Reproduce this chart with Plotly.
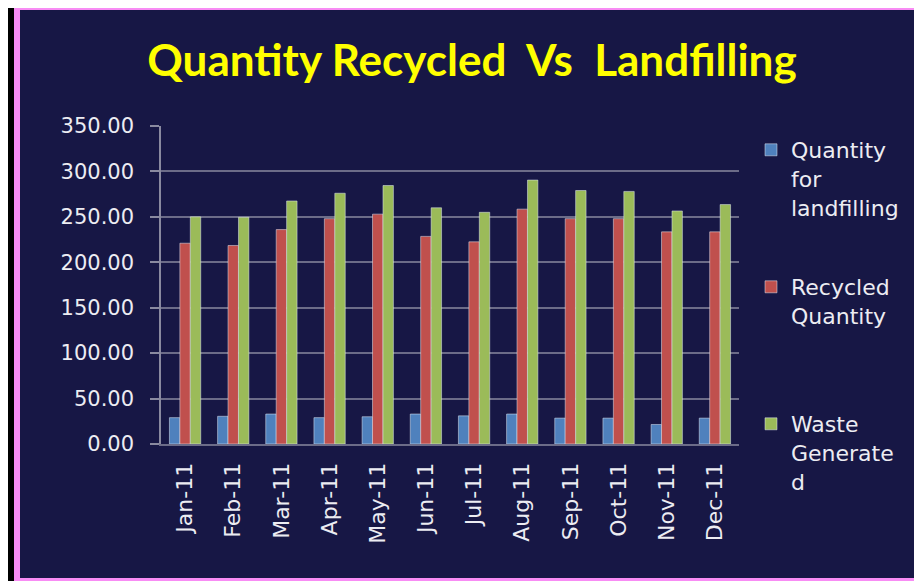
import plotly.graph_objects as go

months = ['Jan-11', 'Feb-11', 'Mar-11', 'Apr-11', 'May-11', 'Jun-11',
          'Jul-11', 'Aug-11', 'Sep-11', 'Oct-11', 'Nov-11', 'Dec-11']
landfill = [29, 30.5, 33, 29, 30, 33, 31, 33, 28.5, 28.5, 21.5, 28.5]
recycled = [221, 218.5, 236, 248, 253, 228.5, 222.5, 258.5, 248, 248, 233.5, 233.5]
waste = [250, 249.5, 267.5, 276, 284.5, 260, 255, 290.5, 279, 278, 256.5, 263.5]
yticks = [0, 50, 100, 150, 200, 250, 300, 350]

# page puts the plot 8px in from the window corner, so size it to fit
W, H = 914, 573
L, R, T, B = 153, 183, 118, 137
pw, ph = W - L - R, H - T - B


def px(x):
    return (x - L) / pw


def py(y):
    return (H - B - y) / ph


navy = '#171745'
grey = '#6c6c88'
txt = '#ececf2'
font = 'DejaVu Sans'

fig = go.Figure()
fig.add_trace(go.Bar(x=months, y=landfill, name='Quantity<br>for<br>landfilling',
                     marker_color='#4F81BD', legend='legend'))
fig.add_trace(go.Bar(x=months, y=recycled, name='Recycled<br>Quantity',
                     marker_color='#C0504D', legend='legend2'))
fig.add_trace(go.Bar(x=months, y=waste, name='Waste<br>Generate<br>d',
                     marker_color='#9BBB59', legend='legend3'))

# pink frame round the slide
fig.add_shape(type='rect', xref='paper', yref='paper',
              x0=px(9), x1=px(940), y0=py(-1), y1=py(573),
              line=dict(color='#f88cf4', width=6), fillcolor=navy, layer='below')

leg = dict(x=px(743), xanchor='left', yanchor='top', valign='top',
           font=dict(family=font, size=22, color=txt),
           bgcolor='rgba(0,0,0,0)')

fig.update_layout(
    width=W, height=H,
    margin=dict(l=L, r=R, t=T, b=B, autoexpand=False),
    paper_bgcolor='black',
    plot_bgcolor='rgba(0,0,0,0)',
    barmode='group', bargap=0.35, bargroupgap=0,
    title=dict(text='Quantity Recycled\u00a0\u00a0Vs\u00a0\u00a0Landfilling',
               x=464 / W, xanchor='center', y=1 - 37 / H, yanchor='top',
               font=dict(family='Lato', size=44, color='#ffff00', weight='bold')),
    legend=dict(leg, y=py(121)),
    legend2=dict(leg, y=py(258)),
    legend3=dict(leg, y=py(395)),
    showlegend=True,
)
fig.update_xaxes(tickangle=-90, showline=True, linecolor=grey, linewidth=2,
                 ticks='', ticklabelstandoff=8,
                 tickfont=dict(family=font, size=22, color=txt),
                 showgrid=False)
fig.update_yaxes(range=[0, 350], tickvals=yticks, tickformat='.2f',
                 showgrid=True, gridcolor=grey, gridwidth=2,
                 showline=True, linecolor='#8a8aa0', linewidth=1.5,
                 ticks='outside', ticklen=9, tickcolor='#8a8aa0', tickwidth=1.5,
                 ticklabelstandoff=12, zeroline=False,
                 tickfont=dict(family=font, size=21, color=txt))

fig.write_html("out.html")
